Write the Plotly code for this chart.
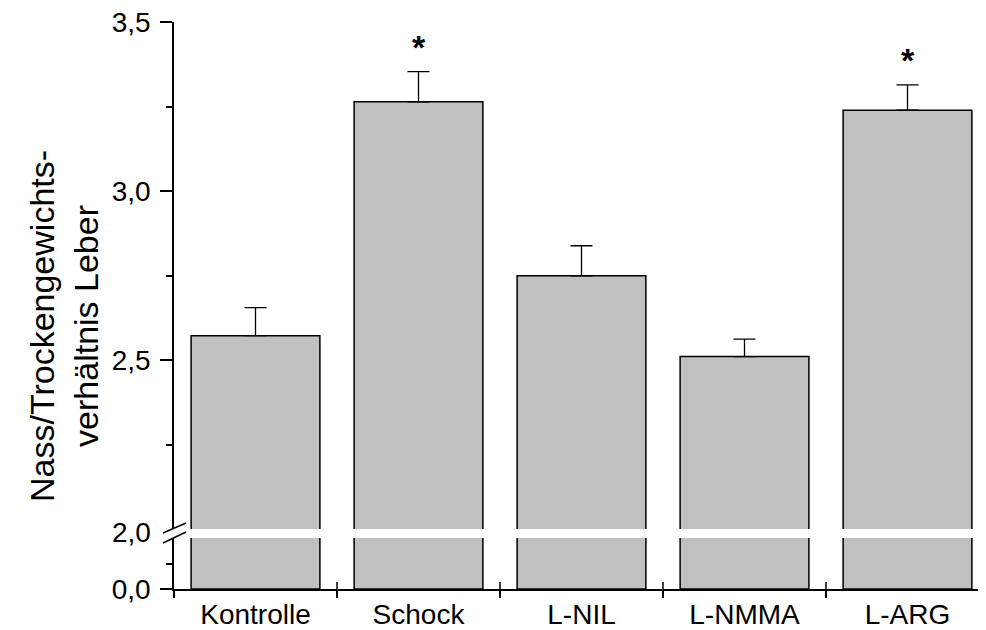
import plotly.graph_objects as go
from plotly.subplots import make_subplots

# ---------------- data ----------------
categories = ["Kontrolle", "Schock", "L-NIL", "L-NMMA", "L-ARG"]
means = [2.572, 3.264, 2.749, 2.510, 3.239]
sem = [0.083, 0.089, 0.089, 0.052, 0.075]
significant = [False, True, False, False, True]

upper_tickvals = [2.5, 3.0, 3.5]
upper_ticktext = ["2,5", "3,0", "3,5"]
lower_tickvals = [0.0]
lower_ticktext = ["0,0"]
break_value = 2.0
break_label = "2,0"
y_title = "Nass/Trockengewichts-<br>verhältnis Leber"

# ---------------- layout constants ----------------
# page body has an 8px default margin, so the figure is shrunk/shifted by it
W, H = 978, 622
ML, MR, MT, MB = 166, 0, 14, 41
plot_w = W - ML - MR
plot_h = H - MT - MB
upper_bottom_px = 60     # distance of upper panel bottom from plot bottom
lower_top_px = 51        # height of lower panel
FONT = "Liberation Sans, Arial, Helvetica, sans-serif"
BAR_FILL = "#c0c0c0"
LW = 1.5

fig = make_subplots(rows=2, cols=1, shared_xaxes=True)

upper_domain = [upper_bottom_px / plot_h, 1.0]
lower_domain = [0.0, lower_top_px / plot_h]

bar_style = dict(marker=dict(color=BAR_FILL, line=dict(color="black", width=LW)),
                 width=0.79, showlegend=False, hoverinfo="skip")

fig.add_trace(go.Bar(x=categories, y=means,
                     error_y=dict(type="data", symmetric=False, array=sem,
                                  arrayminus=[0] * len(sem), color="black",
                                  thickness=1.3, width=11),
                     **bar_style), row=1, col=1)
fig.add_trace(go.Bar(x=categories, y=means, **bar_style), row=2, col=1)

xrange = [-0.5, -0.5 + plot_w / 163.0]

fig.update_layout(
    width=W, height=H,
    margin=dict(l=ML, r=MR, t=MT, b=MB, pad=0),
    paper_bgcolor="white", plot_bgcolor="white",
    font=dict(family=FONT, size=28, color="black"),
    xaxis=dict(range=xrange, showline=False, showticklabels=False, ticks="",
               showgrid=False, zeroline=False),
    xaxis2=dict(range=xrange, showline=True, linecolor="black", linewidth=LW,
                ticks="outside", tickson="boundaries", ticklen=7, tickwidth=LW,
                tickcolor="black", showgrid=False, zeroline=False,
                tickfont=dict(size=28), ticklabeloverflow="allow"),
    yaxis=dict(domain=upper_domain, range=[break_value, 3.5], showline=True,
               linecolor="black", linewidth=LW, ticks="outside", ticklen=12,
               tickwidth=LW, tickcolor="black", tickvals=upper_tickvals,
               ticktext=upper_ticktext, showgrid=False, zeroline=False,
               ticklabelstandoff=4, ticklabeloverflow="allow",
               minor=dict(tickvals=[2.25, 2.75, 3.25], ticks="outside", ticklen=6,
                          tickwidth=LW, tickcolor="black")),
    yaxis2=dict(domain=lower_domain, range=[0, break_value], showline=True,
                linecolor="black", linewidth=LW, ticks="outside", ticklen=12,
                tickwidth=LW, tickcolor="black", tickvals=lower_tickvals,
                ticktext=lower_ticktext, showgrid=False, zeroline=False,
                ticklabelstandoff=4, ticklabeloverflow="allow",
                minor=dict(tickvals=[1.0], ticks="outside", ticklen=6,
                           tickwidth=LW, tickcolor="black")),
)

shapes = []
# inside half of crossing x ticks at category boundaries
for i in range(len(categories) - 1):
    shapes.append(dict(type="line", xref="x2", yref="y2 domain",
                       x0=i + 0.5, x1=i + 0.5, y0=0, y1=7 / lower_top_px,
                       line=dict(color="black", width=LW)))
# axis break slashes
upper_h = plot_h - upper_bottom_px
sx0, sx1 = -11 / plot_w, 12 / plot_w
shapes.append(dict(type="line", xref="paper", yref="y domain",
                   x0=sx0, x1=sx1, y0=-4 / upper_h, y1=6 / upper_h,
                   line=dict(color="black", width=LW)))
shapes.append(dict(type="line", xref="paper", yref="y2 domain",
                   x0=sx0, x1=sx1, y0=(lower_top_px - 5) / lower_top_px,
                   y1=(lower_top_px + 6) / lower_top_px,
                   line=dict(color="black", width=LW)))
fig.update_layout(shapes=shapes)

annotations = []
# break label
annotations.append(dict(x=-21 / plot_w, y=break_value, xref="paper", yref="y",
                        text=break_label, showarrow=False, xanchor="right",
                        yanchor="middle", yshift=-3, font=dict(size=28)))
# significance stars
for c, m, s, sig in zip(categories, means, sem, significant):
    if sig:
        annotations.append(dict(x=c, y=m + s, xref="x", yref="y", text="<b>*</b>",
                                showarrow=False, yanchor="bottom", yshift=4,
                                font=dict(size=34)))
# y title
annotations.append(dict(x=-110 / plot_w, y=263 / plot_h,
                        xref="paper", yref="paper", text=y_title, textangle=-90,
                        showarrow=False, xanchor="center", yanchor="middle",
                        font=dict(size=34)))
fig.update_layout(annotations=annotations)

fig.write_html("out.html")
